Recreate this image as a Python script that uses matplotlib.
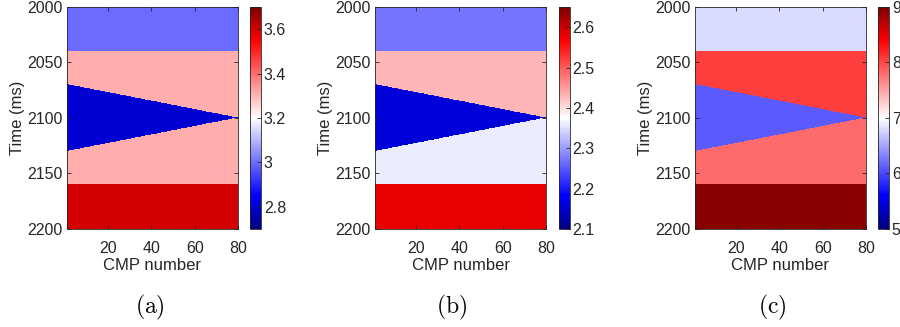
import numpy as np
import matplotlib.pyplot as plt
from matplotlib.colors import LinearSegmentedColormap

plt.rcParams['font.family'] = ['Liberation Sans', 'DejaVu Sans']
plt.rcParams['mathtext.fontset'] = 'cm'

# wedge model geometry (ms) and CMP range
cmp_first, cmp_last = 1, 80
t_top, t_bottom = 2000, 2200
t_layer1 = 2040          # base of top layer
t_wedge_top_left = 2070  # wedge top at first CMP
t_wedge_base_left = 2130 # wedge base at first CMP
t_pinch = 2100           # wedge pinch-out at last CMP
t_layer5 = 2160          # top of bottom layer

# property values: top, above wedge, wedge, below wedge, bottom
props_a = [3.0, 3.31, 2.8, 3.31, 3.6]
props_b = [2.27, 2.43, 2.16, 2.36, 2.58]
props_c = [6.8, 8.05, 6.1, 7.8, 8.95]

clims = [(2.7, 3.7), (2.1, 2.65), (5, 9)]
cbar_ticks = [[2.8, 3, 3.2, 3.4, 3.6],
              [2.1, 2.2, 2.3, 2.4, 2.5, 2.6],
              [5, 6, 7, 8, 9]]
cbar_labels = [['2.8', '3', '3.2', '3.4', '3.6'],
               ['2.1', '2.2', '2.3', '2.4', '2.5', '2.6'],
               ['5', '6', '7', '8', '9']]
panel_names = ['(a)', '(b)', '(c)']

redblue = LinearSegmentedColormap.from_list('redblue', [
    (0.0, (0.0, 0.0, 0.5)),
    (0.15, (0.0, 0.0, 1.0)),
    (0.5, (1.0, 1.0, 1.0)),
    (0.85, (1.0, 0.0, 0.0)),
    (1.0, (0.5, 0.0, 0.0))])


def build_model(vals):
    """Fills a time x CMP grid with the five layer values"""
    x = np.linspace(cmp_first, cmp_last, 400)
    t = np.linspace(t_top, t_bottom, 801)
    X, T = np.meshgrid(x, t)
    frac = (X - cmp_first) / (cmp_last - cmp_first)
    wedge_top = t_wedge_top_left + (t_pinch - t_wedge_top_left) * frac
    wedge_base = t_wedge_base_left + (t_pinch - t_wedge_base_left) * frac
    m = np.full(X.shape, vals[1])
    m[T < t_layer1] = vals[0]
    m[(T >= wedge_top) & (T < wedge_base)] = vals[2]
    m[(T >= wedge_base)] = vals[3]
    m[T >= t_layer5] = vals[4]
    return m


fig = plt.figure(figsize=(9, 3.27), dpi=100)
ax_lefts = [0.0744, 0.4167, 0.7722]
cb_lefts = [0.2778, 0.6211, 0.9756]
label_x = [0.1667, 0.502, 0.858]
edge = (0.15, 0.15, 0.15)

for i, vals in enumerate([props_a, props_b, props_c]):
    ax = fig.add_axes([ax_lefts[i], 0.2997, 0.19, 0.679])
    model = build_model(vals)
    im = ax.imshow(model, cmap=redblue, vmin=clims[i][0], vmax=clims[i][1],
                   extent=[cmp_first, cmp_last, t_bottom, t_top],
                   aspect='auto', interpolation='nearest')
    ax.set_xlim(cmp_first, cmp_last)
    ax.set_ylim(t_bottom, t_top)
    ax.set_xticks([20, 40, 60, 80])
    ax.set_yticks([2000, 2050, 2100, 2150, 2200])
    ax.tick_params(direction='in', top=True, right=True, labelsize=11.5,
                   colors=edge, length=3, width=0.6, pad=3)
    ax.tick_params(axis='x', pad=9)
    for s in ax.spines.values():
        s.set_color(edge)
        s.set_linewidth(0.6)
    ax.set_xlabel('CMP number', fontsize=12, color=edge, labelpad=1)
    ax.set_ylabel('Time (ms)', fontsize=12, color=edge, labelpad=2)

    cax = fig.add_axes([cb_lefts[i], 0.2997, 0.0122, 0.679])
    cb = fig.colorbar(im, cax=cax)
    cb.set_ticks(cbar_ticks[i])
    cb.set_ticklabels(cbar_labels[i])
    cax.tick_params(direction='in', labelsize=11.5, colors=edge, length=3,
                    width=0.6, pad=2)
    cb.outline.set_edgecolor(edge)
    cb.outline.set_linewidth(0.6)

    fig.text(label_x[i], 0.06, r'$\mathrm{' + panel_names[i] + '}$',
             fontsize=17, ha='center', va='center')

fig.savefig('out.png', dpi=100)
